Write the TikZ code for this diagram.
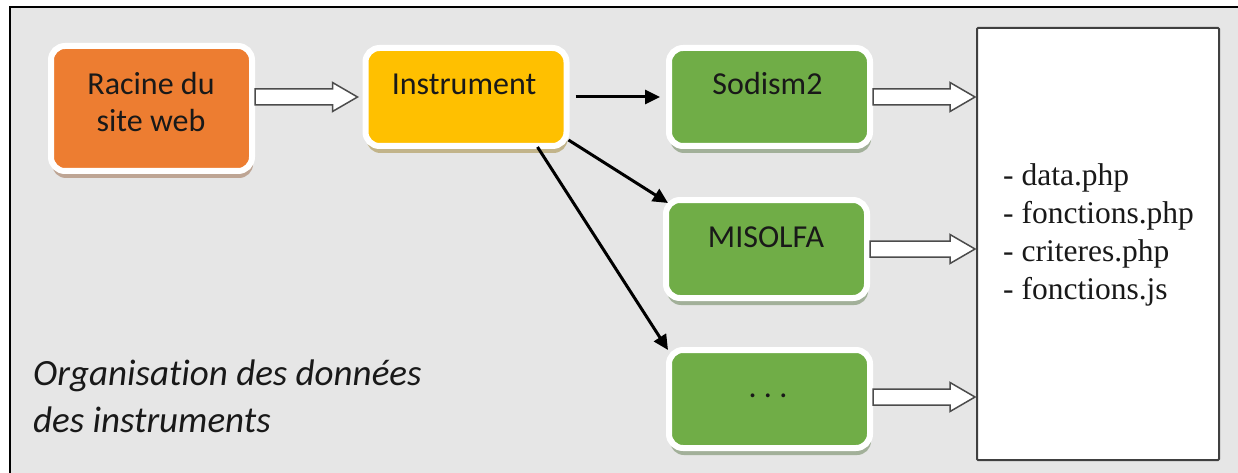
\documentclass[tikz,border=0pt]{standalone}
\usepackage{fontspec}
\setmainfont{Liberation Serif}
\newfontfamily\carlito[Ligatures=NoCommon]{Carlito}
\usetikzlibrary{shadows,calc,arrows.meta}
\definecolor{bggray}{HTML}{E6E6E6}
\definecolor{orng}{HTML}{ED7D31}
\definecolor{yllw}{HTML}{FFC000}
\definecolor{grn}{HTML}{70AD47}
\newcommand\blockarrow[2]{\draw[hollowarrow] ($(#1)+(0,-8)$) -- ($(#2)+(-25,-8)$) -- ($(#2)+(-25,-14.5)$) -- (#2) -- ($(#2)+(-25,14.5)$) -- ($(#2)+(-25,8)$) -- ($(#1)+(0,8)$) -- cycle;}
\begin{document}
\begin{tikzpicture}[x=1pt,y=-1pt,
  box/.style={draw=white, line width=6pt, rounded corners=14pt, minimum width=201pt, minimum height=98pt, inner sep=0pt},
  shad/.style={drop shadow={shadow xshift=1pt, shadow yshift=-7pt, fill=#1, opacity=0.4}},
  lbl/.style={font=\carlito\fontsize{32}{37}\selectfont, inner sep=0pt, text=black!90},
  hollowarrow/.style={draw=black!70, fill=white, line width=1.5pt, line join=miter},
  link/.style={line width=3pt, -{Triangle[length=15pt,width=14pt]}}
]
\useasboundingbox (0,0) rectangle (1238,473);
\clip (0,0) rectangle (1238,473);
\fill[white] (0,0) rectangle (1238,473);
\draw[line width=2.5pt, fill=bggray] (10,7) rectangle (1260,500);

% boxes
\node[box, fill=orng, minimum height=125pt, shad=orng!55!black] (racine) at (151.5,108.5) {};
\node[box, fill=yllw, shad=yllw!55!black] (instr) at (466,97) {};
\node[box, fill=grn, shad=grn!55!black] (sod) at (769.5,97) {};
\node[box, fill=grn, shad=grn!55!black] (mis) at (766.5,249) {};
\node[box, fill=grn, shad=grn!55!black] (dots) at (769.5,399) {};

% labels
\node[lbl, align=center, anchor=north] (racineT) at (151,72) {Racine du\\site web};
\node[lbl, anchor=base] (instrT) at (464,95) {Instrument};
\node[lbl, anchor=base] (sodT) at (767.5,95) {Sodism2};
\node[lbl, anchor=base] (misT) at (766,247) {MISOLFA};
\node[lbl, anchor=base] (dotsT) at (768,397) {.\ .\ .};

% file box
\draw[draw=black!75, fill=white, line width=2pt, rounded corners=1pt] (977,28) rectangle (1219,460);
\coordinate (files) at (977,244);
\node[font=\fontsize{31.5}{38}\selectfont, align=left, anchor=north west, inner sep=0pt, text=black!90] (list) at (1003,163)
  {- data.php\\- fonctions.php\\- criteres.php\\- fonctions.js};

% caption
\node[font=\carlito\itshape\fontsize{37}{47}\selectfont, align=left, anchor=north west, inner sep=0pt, text=black!90] (caption) at (33,360)
  {Organisation des données\\des instruments};

% hollow arrows
\coordinate (a1s) at (racine.east |- instr.west);
\coordinate (a1e) at ($(instr.west)+(-5,0)$);
\blockarrow{a1s}{a1e}
\coordinate (a2s) at (sod.east);
\coordinate (a2e) at ($(files |- sod.east)+(-2,0)$);
\blockarrow{a2s}{a2e}
\coordinate (a3s) at (mis.east);
\coordinate (a3e) at ($(files |- mis.east)+(-2,0)$);
\blockarrow{a3s}{a3e}
\coordinate (a4s) at ($(dots.east)+(0,-2)$);
\coordinate (a4e) at ($(files |- dots.east)+(-2,-2)$);
\blockarrow{a4s}{a4e}

% black arrows
\draw[link, shorten <=6pt, shorten >=6pt] (instr.east) -- (sod.west);
\draw[link] ($(instr.south east)+(-1,-9)$) -- ($(mis.north west)+(5,6)$);
\draw[link] ($(instr.south east)+(-32,-2)$) -- ($(dots.north west)+(2,3)$);
\end{tikzpicture}
\end{document}
